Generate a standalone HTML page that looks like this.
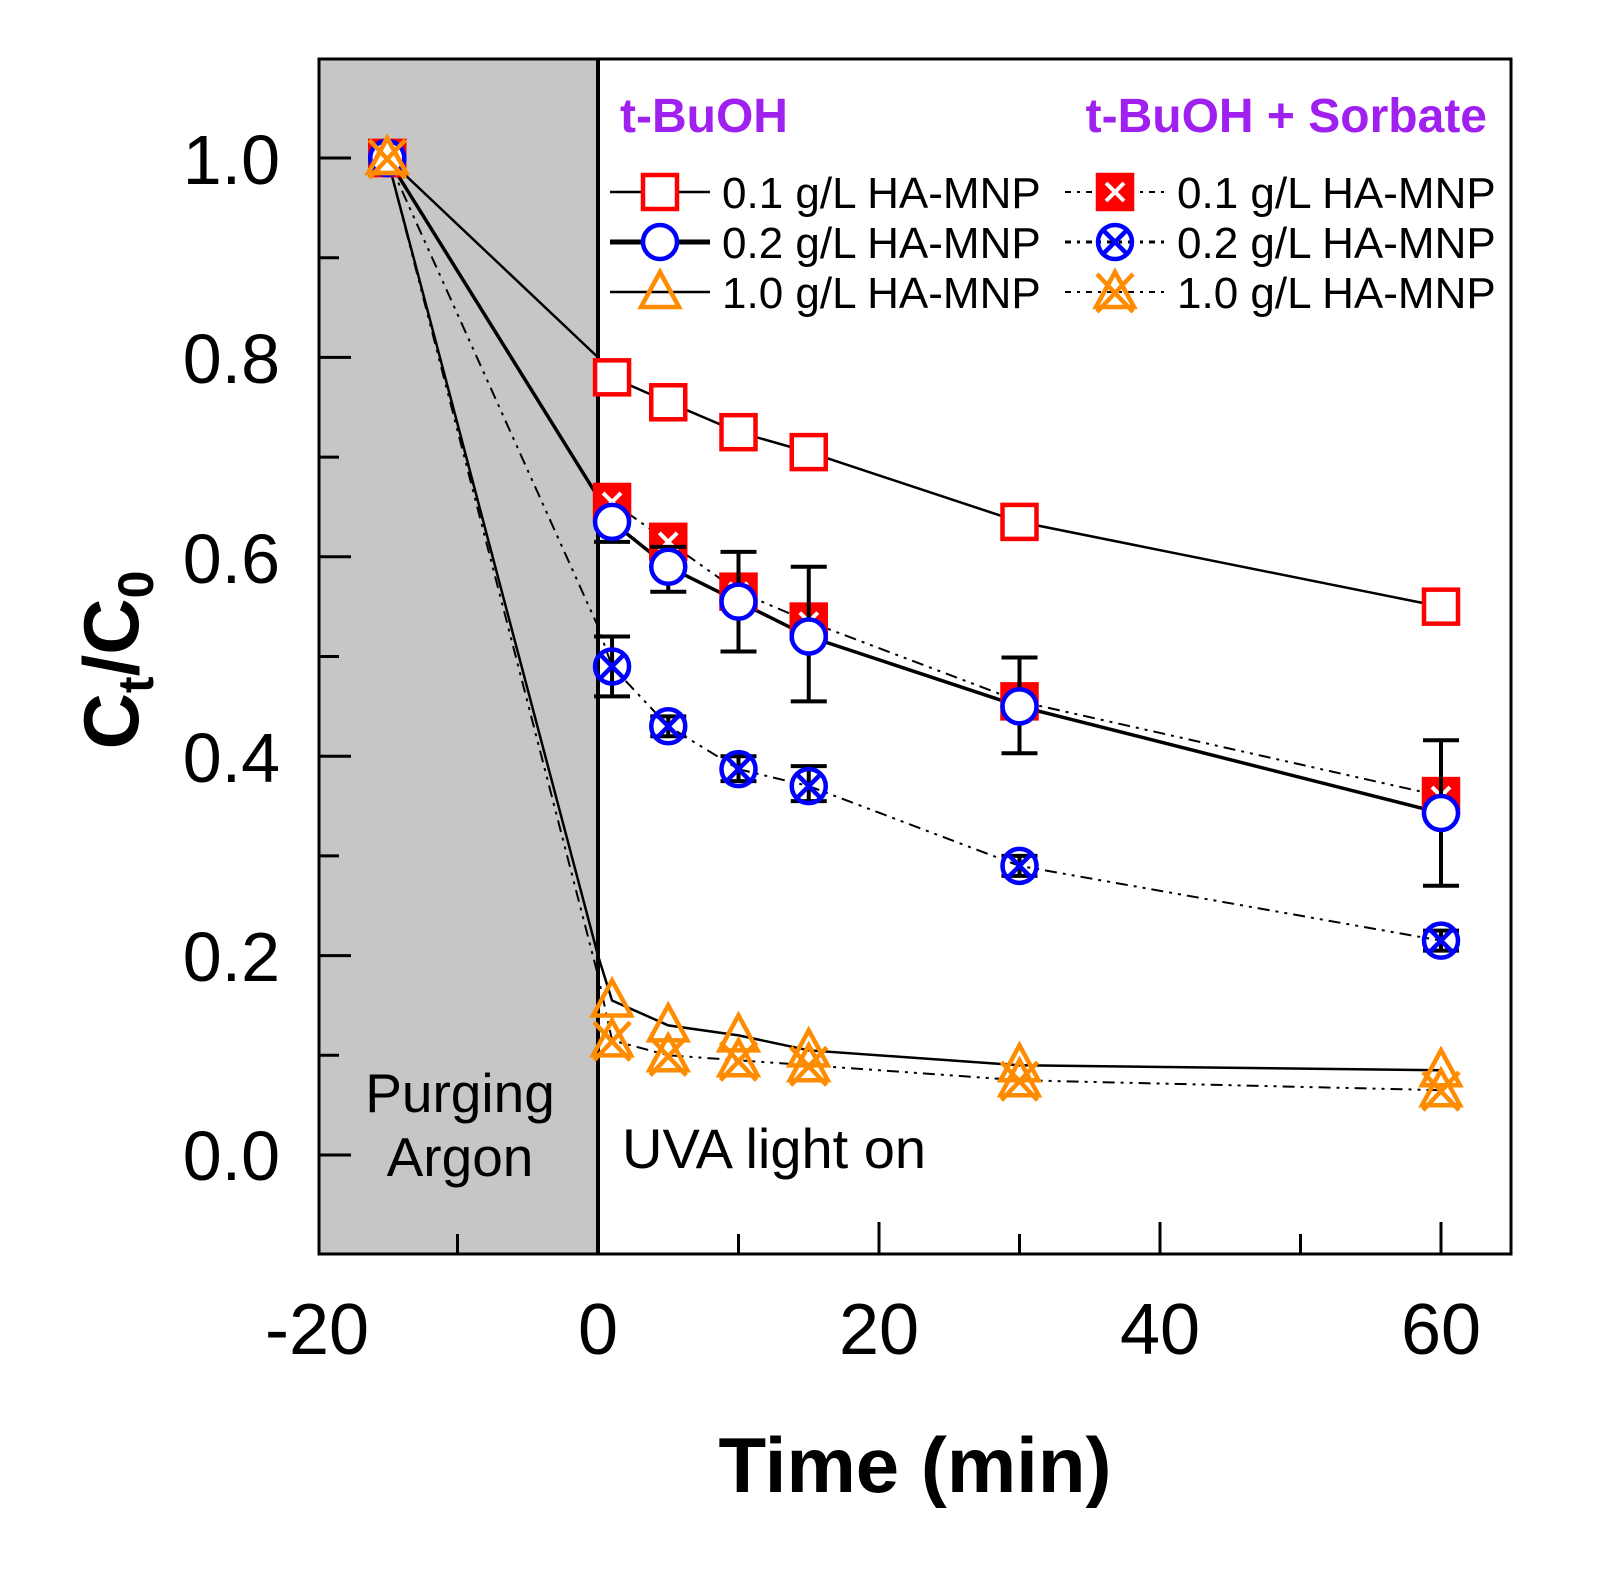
<!DOCTYPE html>
<html><head><meta charset="utf-8"><style>
html,body{margin:0;padding:0;background:#fff;}
svg{display:block;font-family:"Liberation Sans",sans-serif;}
</style></head><body>
<svg id="s" width="1598" height="1593" viewBox="0 0 1598 1593" xmlns="http://www.w3.org/2000/svg">
<rect x="0" y="0" width="1598" height="1593" fill="#fff"/>
<rect x="319" y="59" width="279" height="1195" fill="#c6c6c6"/>
<rect x="319" y="59" width="1192" height="1195" fill="none" stroke="#000" stroke-width="3"/>
<line x1="598" y1="59" x2="598" y2="1254" stroke="#000" stroke-width="4"/>
<g id="ticks" stroke="#000" stroke-width="3"></g>
<g id="data"></g>
<g font-size="70" text-anchor="end" fill="#000">
<text x="280" y="1180">0.0</text><text x="280" y="981">0.2</text><text x="280" y="782">0.4</text>
<text x="280" y="583">0.6</text><text x="280" y="383">0.8</text><text x="280" y="184">1.0</text>
</g>
<g font-size="72" text-anchor="middle" fill="#000">
<text x="317" y="1354">-20</text><text x="598" y="1354">0</text><text x="879" y="1354">20</text>
<text x="1160" y="1354">40</text><text x="1441" y="1354">60</text>
</g>
<text x="915" y="1492" font-size="78" font-weight="bold" text-anchor="middle">Time (min)</text>
<text transform="translate(138,660) rotate(-90)" font-size="78" font-weight="bold" text-anchor="middle">C<tspan font-size="50" dy="15">t</tspan><tspan dy="-15">/C</tspan><tspan font-size="50" dy="15">0</tspan></text>
<g font-size="55" text-anchor="middle" fill="#000"><text x="460" y="1112">Purging</text><text x="460" y="1176">Argon</text></g>
<text x="622" y="1168" font-size="56" fill="#000">UVA light on</text>
<text x="620" y="132" font-size="48" font-weight="bold" fill="#a020f0">t-BuOH</text>
<text x="1487" y="132" font-size="48" font-weight="bold" fill="#a020f0" text-anchor="end">t-BuOH + Sorbate</text>
<g id="legend"></g>
</svg>
<script>
var NS="http://www.w3.org/2000/svg";
function el(p,t,a){var e=document.createElementNS(NS,t);for(var k in a)e.setAttribute(k,a[k]);p.appendChild(e);return e;}
var X=function(t){return 598+14.05*t}, Y=function(v){return 1155-997*v};
var tk=document.getElementById('ticks');
for(var i=0;i<=10;i++){var v=i/10;var L=i%2==0?32:20;el(tk,'line',{x1:319,y1:Y(v),x2:319+L,y2:Y(v)});}
[-10,0,10,20,30,40,50,60].forEach(function(t){var L=(t%20==0)?32:20;el(tk,'line',{x1:X(t),y1:1254,x2:X(t),y2:1254-L});});
var d=document.getElementById('data');
var T=[1,5,10,15,30,60];
function marker(g,type,x,y){
 var s=17,sw=4.5;
 if(type=='sq')el(g,'rect',{x:x-s,y:y-s,width:2*s,height:2*s,fill:'#fff',stroke:'#f00','stroke-width':sw});
 if(type=='sqx'){el(g,'rect',{x:x-s,y:y-s,width:2*s,height:2*s,fill:'#f00',stroke:'#f00','stroke-width':sw});
   el(g,'path',{d:'M'+(x-9)+' '+(y-9)+'L'+(x+9)+' '+(y+9)+'M'+(x+9)+' '+(y-9)+'L'+(x-9)+' '+(y+9),stroke:'#fff','stroke-width':4});}
 if(type=='ci')el(g,'circle',{cx:x,cy:y,r:s,fill:'#fff',stroke:'#00f','stroke-width':sw});
 if(type=='cix'){el(g,'circle',{cx:x,cy:y,r:s,fill:'none',stroke:'#00f','stroke-width':sw});
   el(g,'path',{d:'M'+(x-13)+' '+(y-13)+'L'+(x+13)+' '+(y+13)+'M'+(x+13)+' '+(y-13)+'L'+(x-13)+' '+(y+13),stroke:'#00f','stroke-width':sw});}
 if(type=='tr')el(g,'path',{d:'M'+x+' '+(y-20)+'L'+(x+19)+' '+(y+15)+'L'+(x-19)+' '+(y+15)+'Z',fill:'none',stroke:'#ff8c00','stroke-width':sw});
 if(type=='trx'){el(g,'path',{d:'M'+x+' '+(y-20)+'L'+(x+19)+' '+(y+15)+'L'+(x-19)+' '+(y+15)+'Z',fill:'none',stroke:'#ff8c00','stroke-width':sw});
   el(g,'path',{d:'M'+(x-18)+' '+(y-18)+'L'+(x+18)+' '+(y+20)+'M'+(x+18)+' '+(y-18)+'L'+(x-18)+' '+(y+20),stroke:'#ff8c00','stroke-width':sw});}
}
var series=[
 {m:'sqx',v0:0.66,v:[0.655,0.615,0.565,0.535,0.455,0.36],dash:'12 6 3 6 3 6',w:2},
 {m:'sq',v0:0.80,v:[0.78,0.755,0.725,0.705,0.635,0.55],dash:'',w:2.5},
 {m:'cix',v0:0.53,v:[0.49,0.43,0.387,0.37,0.29,0.215],dash:'12 6 3 6 3 6',w:2,e:[[0.46,0.52],[0.42,0.44],[0.375,0.40],[0.355,0.39],[0.28,0.30],[0.205,0.225]]},
 {m:'ci',v0:0.66,v:[0.635,0.59,0.555,0.52,0.45,0.343],dash:'',w:3.5,e:[[0.615,0.64],[0.565,0.61],[0.505,0.605],[0.455,0.59],[0.403,0.499],[0.27,0.416]]},
 {m:'trx',v0:0.18,v:[0.115,0.10,0.095,0.09,0.075,0.065],dash:'12 6 3 6 3 6',w:2},
 {m:'tr',v0:0.20,v:[0.155,0.13,0.12,0.105,0.09,0.085],dash:'',w:2.5}
];
series.forEach(function(s){
 var pts=[[X(-15),Y(1.0)],[598,Y(s.v0)]];
 T.forEach(function(t,i){pts.push([X(t),Y(s.v[i])]);});
 var a={points:pts.map(function(p){return p.join(',')}).join(' '),fill:'none',stroke:'#000','stroke-width':s.w};
 if(s.dash)a['stroke-dasharray']=s.dash;
 el(d,'polyline',a);
});
series.forEach(function(s){
 if(s.e)T.forEach(function(t,i){var x=X(t),a=Y(s.e[i][0]),b=Y(s.e[i][1]);
  el(d,'path',{d:'M'+x+' '+a+'L'+x+' '+b+'M'+(x-18)+' '+a+'L'+(x+18)+' '+a+'M'+(x-18)+' '+b+'L'+(x+18)+' '+b,stroke:'#000','stroke-width':4,fill:'none'});});
 marker(d,s.m,X(-15),Y(1.0));
 T.forEach(function(t,i){marker(d,s.m,X(t),Y(s.v[i]));});
});
var lg=document.getElementById('legend');
var L=[['sq',610,192,'',2.5],['ci',610,242,'',5],['tr',610,292,'',2.5],['sqx',1065,192,'6 6 3 6',2],['cix',1065,242,'6 6 3 6',3],['trx',1065,292,'6 6 3 6',2]];
L.forEach(function(l){
 var a={x1:l[1],y1:l[2],x2:l[1]+100,y2:l[2],stroke:'#000','stroke-width':l[4]};if(l[3])a['stroke-dasharray']=l[3];
 el(lg,'line',a);marker(lg,l[0],l[1]+50,l[2]);
 var t=el(lg,'text',{x:l[1]+112,y:l[2]+16,'font-size':44,fill:'#000'});t.textContent=(l[0][0]=='s'?'0.1':l[0][0]=='c'?'0.2':'1.0')+' g/L HA-MNP';
});
</script>
</body></html>
